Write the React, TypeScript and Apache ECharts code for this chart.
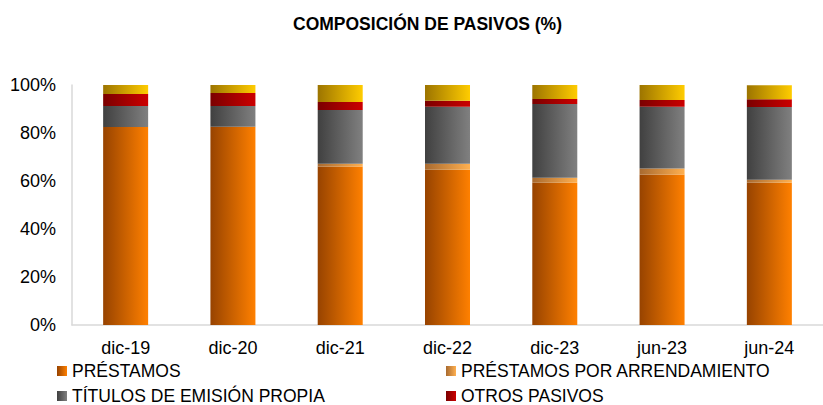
import React, { useEffect, useRef } from "react";
import * as echarts from "echarts";

const categories = ["dic-19", "dic-20", "dic-21", "dic-22", "dic-23", "jun-23", "jun-24"];
const prestamos = [82.5, 82.6, 66.0, 64.7, 59.3, 62.7, 59.3];
const arrendamiento = [0, 0, 1.2, 2.5, 2.1, 2.5, 1.2];
const titulos = [8.75, 8.7, 22.4, 23.7, 30.7, 25.7, 30.3];
const otros = [5.0, 5.4, 3.3, 2.5, 2.1, 2.9, 3.3];
const resto = [3.75, 3.3, 7.1, 6.6, 5.8, 6.2, 5.8];
const yTicks = [0, 20, 40, 60, 80, 100];

const FONT = "'Liberation Sans', Arial, sans-serif";

const grad = (a: string, b: string) =>
  new echarts.graphic.LinearGradient(0, 0, 1, 0, [
    { offset: 0, color: a },
    { offset: 1, color: b },
  ]);

export default function App() {
  const ref = useRef<HTMLDivElement>(null);
  useEffect(() => {
    if (!ref.current) return;
    const chart = echarts.init(ref.current, null, { renderer: "svg" });
    const mk = (name: string, data: number[], a: string, b: string) => ({
      name,
      type: "bar",
      stack: "total",
      data,
      barWidth: 45,
      itemStyle: { color: grad(a, b) },
    });
    const lg = (name: string, left: number, top: number) => ({
      left,
      top,
      padding: 0,
      itemWidth: 10,
      itemHeight: 10,
      icon: "rect",
      data: [name],
      textStyle: { fontFamily: FONT, fontSize: 17.5, color: "#000", lineHeight: 16 },
    });
    chart.setOption({
      animation: false,
      backgroundColor: "#ffffff",
      textStyle: { fontFamily: FONT },
      title: {
        text: "COMPOSICIÓN DE PASIVOS (%)",
        left: 288,
        top: 10,
        textStyle: { fontFamily: FONT, fontSize: 17.5, fontWeight: "bold", color: "#000" },
      },
      legend: [
        lg("PRÉSTAMOS", 57, 362),
        lg("TÍTULOS DE EMISIÓN PROPIA", 57, 387),
        lg("PRÉSTAMOS POR ARRENDAMIENTO", 446, 362),
        lg("OTROS PASIVOS", 446, 387),
      ],
      grid: { left: 72, top: 85, bottom: 80, right: -12, containLabel: false },
      xAxis: {
        type: "category",
        data: categories,
        axisLine: { lineStyle: { color: "#d9d9d9", width: 1.5 } },
        axisTick: { show: false },
        axisLabel: { fontFamily: FONT, fontSize: 18, color: "#000", margin: 14 },
      },
      yAxis: {
        type: "value",
        min: yTicks[0],
        max: yTicks[yTicks.length - 1],
        interval: 20,
        axisLine: { show: true, lineStyle: { color: "#d9d9d9", width: 1.5 } },
        axisTick: { show: false },
        splitLine: { show: false },
        axisLabel: { formatter: "{value}%", fontFamily: FONT, fontSize: 18, color: "#000", margin: 16 },
      },
      series: [
        mk("PRÉSTAMOS", prestamos, "#974300", "#ff8000"),
        mk("PRÉSTAMOS POR ARRENDAMIENTO", arrendamiento, "#a86a30", "#ffb050"),
        mk("TÍTULOS DE EMISIÓN PROPIA", titulos, "#404040", "#808080"),
        mk("OTROS PASIVOS", otros, "#7a0000", "#cc0000"),
        mk("PATRIMONIO", resto, "#9c7400", "#ffcc00"),
      ],
    });
    return () => chart.dispose();
  }, []);
  return (
    <div
      ref={ref}
      style={{ position: "fixed", left: 0, top: 0, width: 823, height: 405 }}
    />
  );
}
